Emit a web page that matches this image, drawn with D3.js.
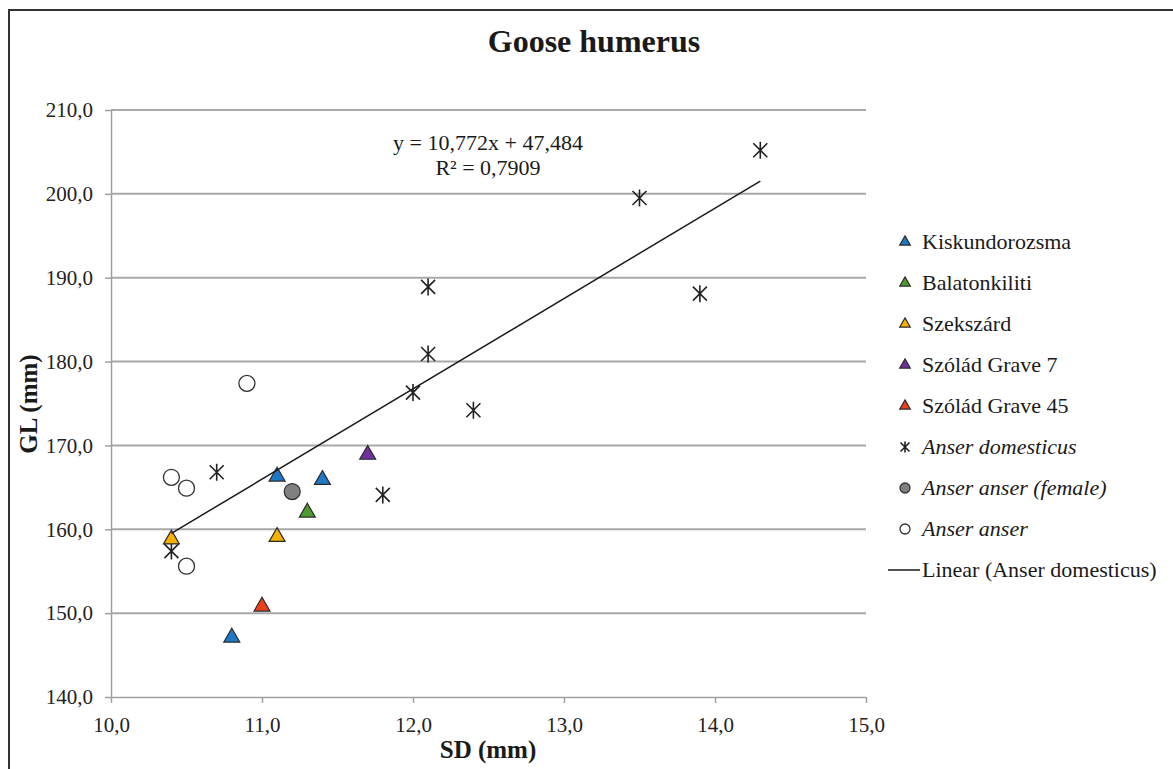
<!DOCTYPE html>
<meta charset="utf-8">
<head>
  <title>Goose humerus</title>
</head>

<style>
body { margin: 0; background: #fff; }
svg, svg text {
  font-family: "Liberation Serif", "Times New Roman", serif !important;
}
text { fill: #1a1a1a; }
.grid line { stroke: #a8a8a8; stroke-width: 2; }
.axis path, .axis line { stroke: #a0a0a0; stroke-width: 1.5; }
.axis text { font-size: 21px; fill: #222; }
</style>

<body>
  <svg width="1173" height="769"></svg>

  <script src="https://cdnjs.cloudflare.com/ajax/libs/d3/7.8.5/d3.min.js"></script>
  <script>

// values: [SD, GL]
var kiskundorozsma = [[11.1, 166.3], [11.4, 165.9], [10.8, 147.1]];
var balatonkiliti = [[11.3, 162.0]];
var szekszard = [[10.4, 158.8], [11.1, 159.1]];
var szoladGrave7 = [[11.7, 168.9]];
var szoladGrave45 = [[11.0, 150.8]];
var anserDomesticus = [[14.3, 205.2], [13.5, 199.5], [13.9, 188.1], [12.1, 188.9], [12.1, 180.9],
  [12.0, 176.3], [12.4, 174.2], [10.7, 166.8], [11.8, 164.1], [10.4, 157.4]];
var anserFemale = [[11.2, 164.5]];
var anserAnser = [[10.9, 177.4], [10.4, 166.2], [10.5, 164.9], [10.5, 155.6]];

var xTicks = [10, 11, 12, 13, 14, 15];
var yTicks = [140, 150, 160, 170, 180, 190, 200, 210];
var eqText = "y = 10,772x + 47,484", r2Text = "R² = 0,7909";
var slope = 10.772, intercept = 47.484;

var series = [
  {name: "Kiskundorozsma", data: kiskundorozsma, shape: "tri", color: "#1f78c4"},
  {name: "Balatonkiliti", data: balatonkiliti, shape: "tri", color: "#4f9a30"},
  {name: "Szekszárd", data: szekszard, shape: "tri", color: "#f5b000"},
  {name: "Szólád Grave 7", data: szoladGrave7, shape: "tri", color: "#7030a0"},
  {name: "Szólád Grave 45", data: szoladGrave45, shape: "tri", color: "#e8401c"},
  {name: "Anser domesticus", data: anserDomesticus, shape: "star", italic: true},
  {name: "Anser anser (female)", data: anserFemale, shape: "circle", color: "#808080", italic: true},
  {name: "Anser anser", data: anserAnser, shape: "circle", color: "#ffffff", italic: true}
];

var serif = '"Liberation Serif", "Times New Roman", serif';
var comma = d3.formatLocale({decimal: ",", thousands: " ", grouping: [3], currency: ["", ""]}).format(".1f");

var svg = d3.select("svg");

// outer frame
svg.append("rect")
  .attr("x", 9).attr("y", 10)
  .attr("width", 1200).attr("height", 800)
  .attr("fill", "none").attr("stroke", "#333").attr("stroke-width", 2);

var x = d3.scaleLinear().domain([10, 15]).range([111, 866]);
var y = d3.scaleLinear().domain([140, 210]).range([697, 110]);

// gridlines
svg.append("g").attr("class", "grid")
  .selectAll("line")
  .data(yTicks.slice(1))
  .enter().append("line")
  .attr("x1", x(10)).attr("x2", x(15))
  .attr("y1", function(d) { return y(d); })
  .attr("y2", function(d) { return y(d); });

svg.append("g").attr("class", "axis")
  .attr("transform", "translate(" + x(10) + ",0)")
  .call(d3.axisLeft(y).tickValues(yTicks).tickSize(6).tickSizeOuter(0).tickPadding(12).tickFormat(comma))
  .attr("font-family", serif);

svg.append("g").attr("class", "axis")
  .attr("transform", "translate(0," + y(140) + ")")
  .call(d3.axisBottom(x).tickValues(xTicks).tickSize(6).tickSizeOuter(0).tickPadding(14).tickFormat(comma))
  .attr("font-family", serif);

// title and axis titles
svg.append("text")
  .attr("x", 594).attr("y", 52)
  .attr("text-anchor", "middle")
  .style("font-size", "32px").style("font-weight", "bold")
  .text("Goose humerus");

svg.append("text")
  .attr("x", 488).attr("y", 758)
  .attr("text-anchor", "middle")
  .style("font-size", "25px").style("font-weight", "bold")
  .text("SD (mm)");

svg.append("text")
  .attr("transform", "translate(37,404) rotate(-90)")
  .attr("text-anchor", "middle")
  .style("font-size", "25px").style("font-weight", "bold")
  .text("GL (mm)");

// markers
function drawMarker(g, s, big) {
  if (s.shape === "tri") {
    g.append("path")
      .attr("d", d3.symbol().type(d3.symbolTriangle).size(big ? 110 : 48)())
      .attr("fill", s.color).attr("stroke", "#2a2a2a").attr("stroke-width", 1.2);
  } else if (s.shape === "circle") {
    g.append("circle")
      .attr("r", big ? 8 : 5)
      .attr("fill", s.color).attr("stroke", "#333").attr("stroke-width", 1.3);
  } else {
    var a = big ? 7 : 4.5, b = big ? 8.5 : 5.5;
    g.append("path")
      .attr("d", "M" + (-a) + "," + (-a) + "L" + a + "," + a +
                 "M" + (-a) + "," + a + "L" + a + "," + (-a) +
                 "M0," + (-b) + "L0," + b)
      .attr("fill", "none").attr("stroke", "#222").attr("stroke-width", 1.6);
  }
}

// draw domesticus first so triangles sit on top
var order = [5, 7, 6, 0, 1, 2, 3, 4];
order.forEach(function(i) {
  var s = series[i];
  svg.append("g")
    .selectAll("g")
    .data(s.data)
    .enter().append("g")
    .attr("transform", function(d) { return "translate(" + x(d[0]) + "," + y(d[1]) + ")"; })
    .each(function() { drawMarker(d3.select(this), s, true); });
});

// trendline for Anser domesticus
var xs = d3.extent(anserDomesticus, function(d) { return d[0]; });
svg.append("line")
  .attr("x1", x(xs[0])).attr("y1", y(slope * xs[0] + intercept))
  .attr("x2", x(xs[1])).attr("y2", y(slope * xs[1] + intercept))
  .attr("stroke", "#1a1a1a").attr("stroke-width", 1.5);

svg.append("text")
  .attr("x", 488).attr("y", 150)
  .attr("text-anchor", "middle")
  .style("font-size", "22px")
  .text(eqText);

svg.append("text")
  .attr("x", 488).attr("y", 175)
  .attr("text-anchor", "middle")
  .style("font-size", "22px")
  .text(r2Text);

// legend
var legend = svg.append("g").attr("transform", "translate(905,242)");
series.forEach(function(s, i) {
  var row = legend.append("g").attr("transform", "translate(0," + (i * 41) + ")");
  drawMarker(row, s, false);
  row.append("text")
    .attr("x", 17).attr("y", 7)
    .style("font-size", "22px")
    .style("font-style", s.italic ? "italic" : "normal")
    .text(s.name);
});
var lrow = legend.append("g").attr("transform", "translate(0," + (series.length * 41) + ")");
lrow.append("line")
  .attr("x1", -17).attr("x2", 15).attr("y1", 0).attr("y2", 0)
  .attr("stroke", "#1a1a1a").attr("stroke-width", 1.5);
lrow.append("text")
  .attr("x", 17).attr("y", 7)
  .style("font-size", "22px")
  .text("Linear (Anser domesticus)");

  </script>
</body>
</html>
